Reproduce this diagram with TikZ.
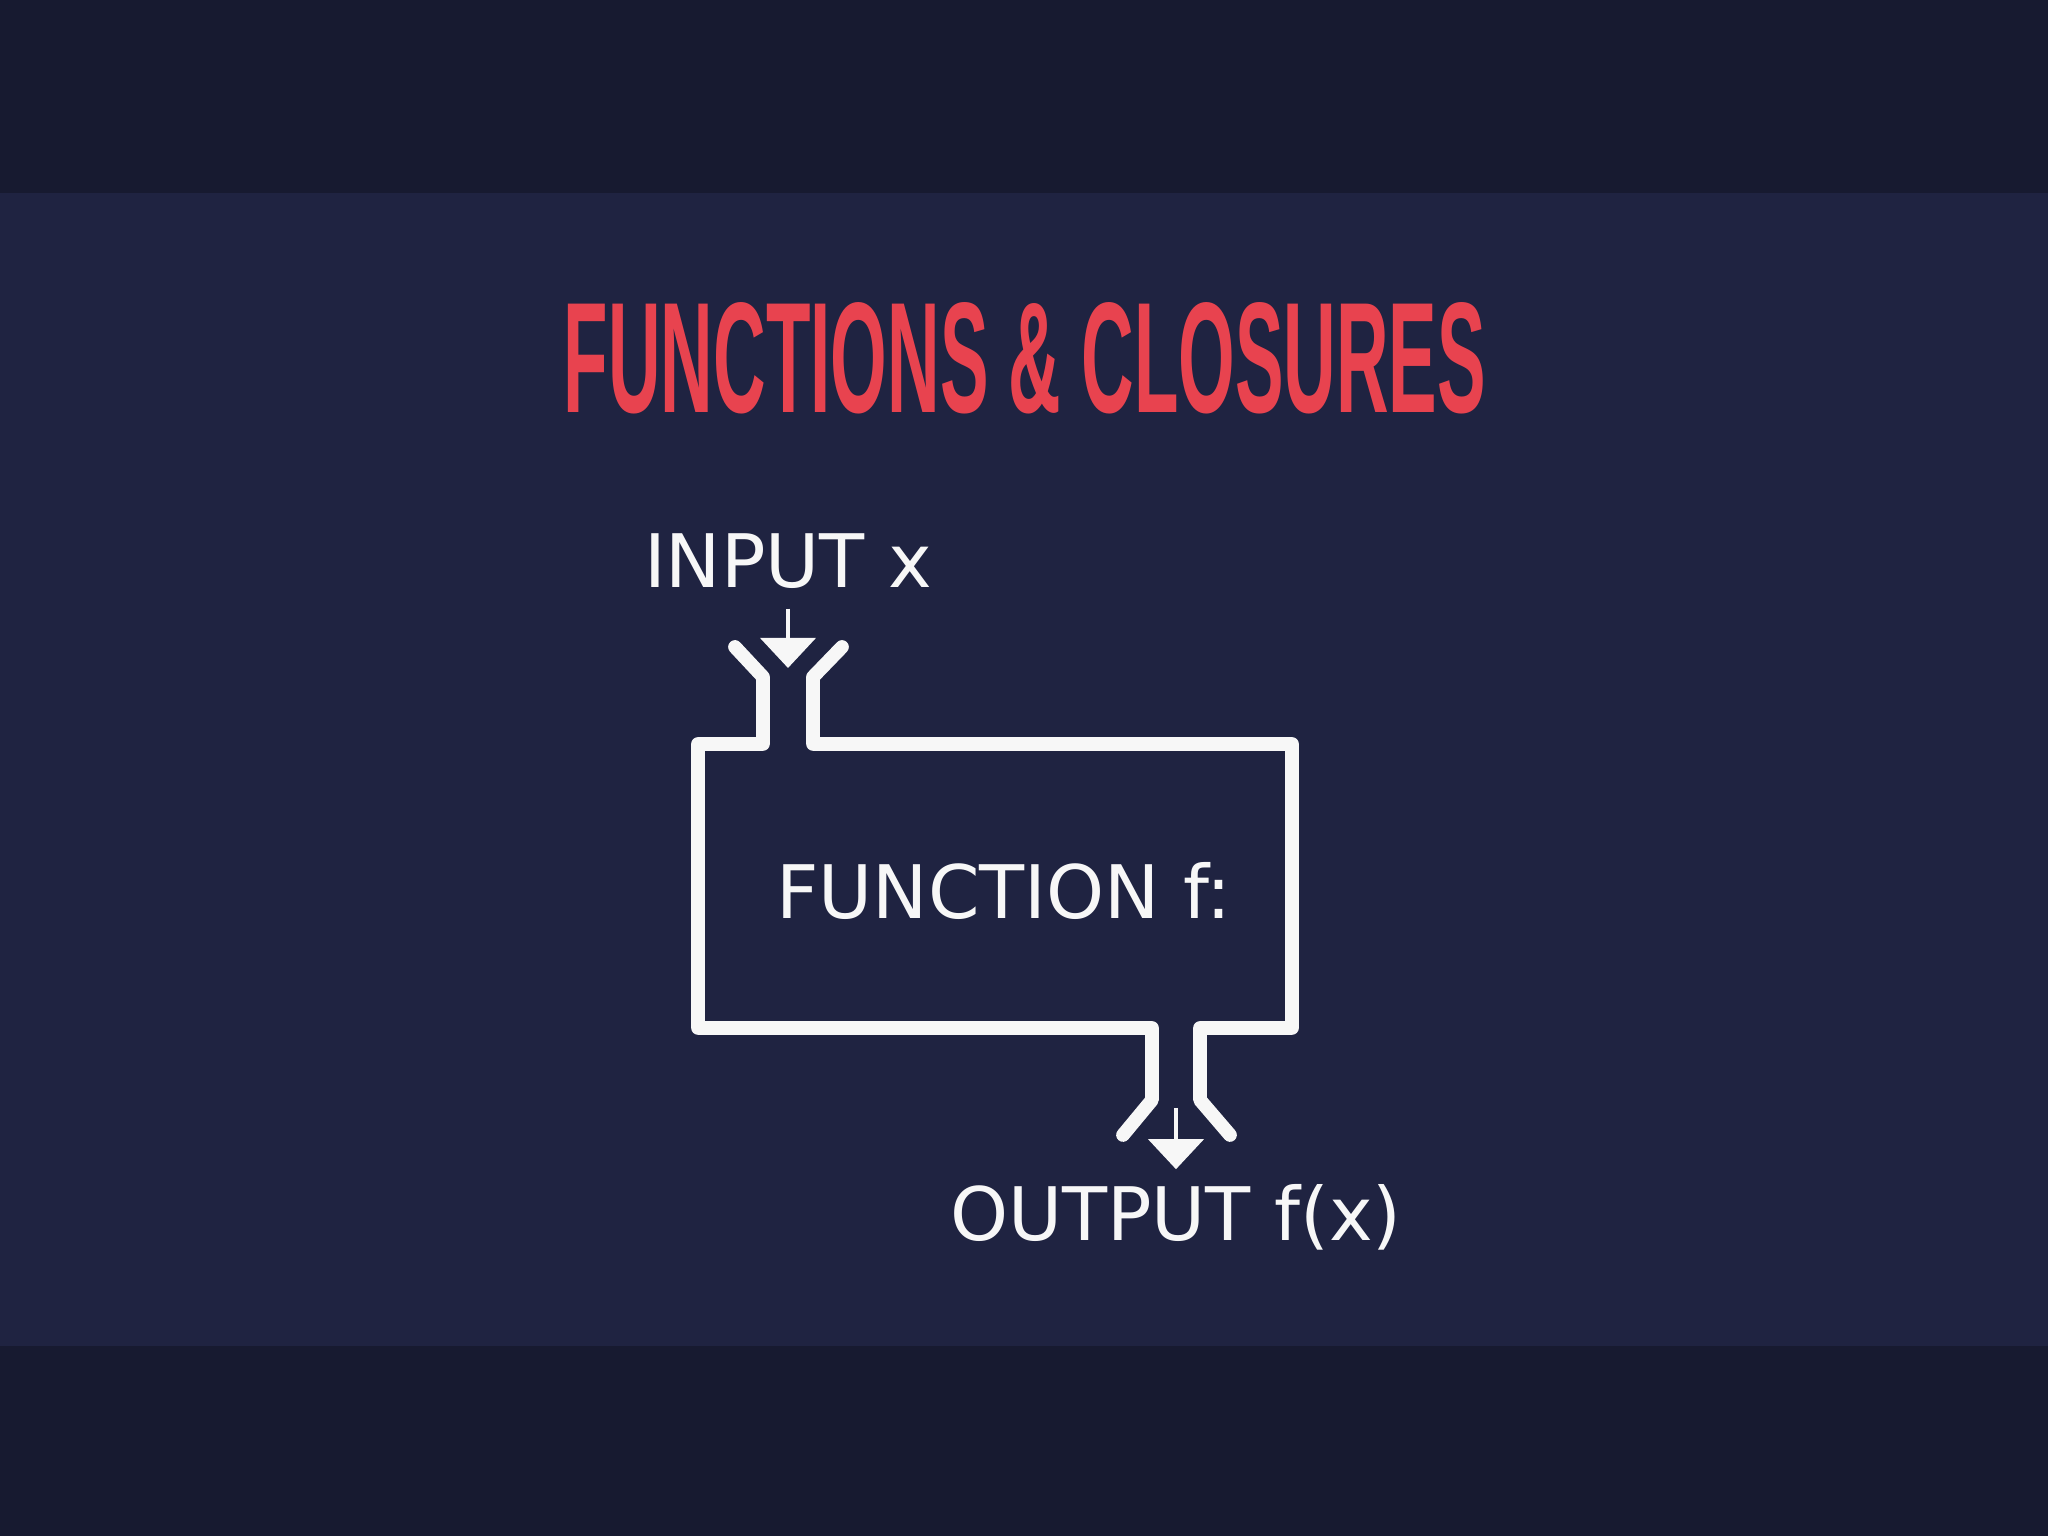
\documentclass[tikz,border=0pt]{standalone}
\usepackage{fontspec}
\setmainfont{DejaVu Sans}
\newfontfamily\headfont{Liberation Sans}
\usepackage{xcolor}
\usepackage{tikz}
\usetikzlibrary{arrows.meta}

\definecolor{bandbg}{HTML}{171A30}
\definecolor{slidebg}{HTML}{1F2341}
\definecolor{titlered}{HTML}{E8434F}
\definecolor{chalk}{HTML}{F7F7F7}

\begin{document}
\begin{tikzpicture}[pipe/.style={draw=chalk, line width=3.9pt, line cap=round, line join=round}, flow/.style={draw=chalk, line width=1.2pt, -{Triangle[width=0.55cm, length=0.3cm]}}, caption/.style={text=chalk, font=\fontsize{21}{25}\selectfont, inner sep=0pt}]
        \fill[bandbg] (0,0) rectangle (20.48,15.36);
        \fill[slidebg] (0,1.90) rectangle (20.48,13.43);
        \useasboundingbox (0,0) rectangle (20.48,15.36);

        \node[inner sep=0pt, text=titlered] (title) at (10.25,11.78) {\resizebox{9.22cm}{1.10cm}{\headfont\bfseries FUNCTIONS \& CLOSURES}};
        \node[caption, anchor=base] (inx) at (7.88,9.48) {INPUT x};
        \node[caption, anchor=base] (fn) at (10.04,6.17) {FUNCTION f:};
        \node[caption, anchor=base] (outfx) at (11.76,2.95) {OUTPUT f(x)};
        \coordinate (intip) at (7.88,8.68);
        \coordinate (outtail) at (11.76,4.28);

        \draw[pipe] (7.35,8.89) -- (7.63,8.59) -- (7.63,7.92) -- (6.98,7.92) -- (6.98,5.08) -- (11.52,5.08) -- (11.52,4.36) -- (11.23,4.01);
        \draw[pipe] (8.42,8.89) -- (8.13,8.59) -- (8.13,7.92) -- (12.92,7.92) -- (12.92,5.08) -- (12.00,5.08) -- (12.00,4.36) -- (12.30,4.01);

        \draw[flow, shorten <=0.19cm] (inx) -- (intip);
        \draw[flow, shorten >=0.15cm] (outtail) -- (outfx);
    \end{tikzpicture}
\end{document}
